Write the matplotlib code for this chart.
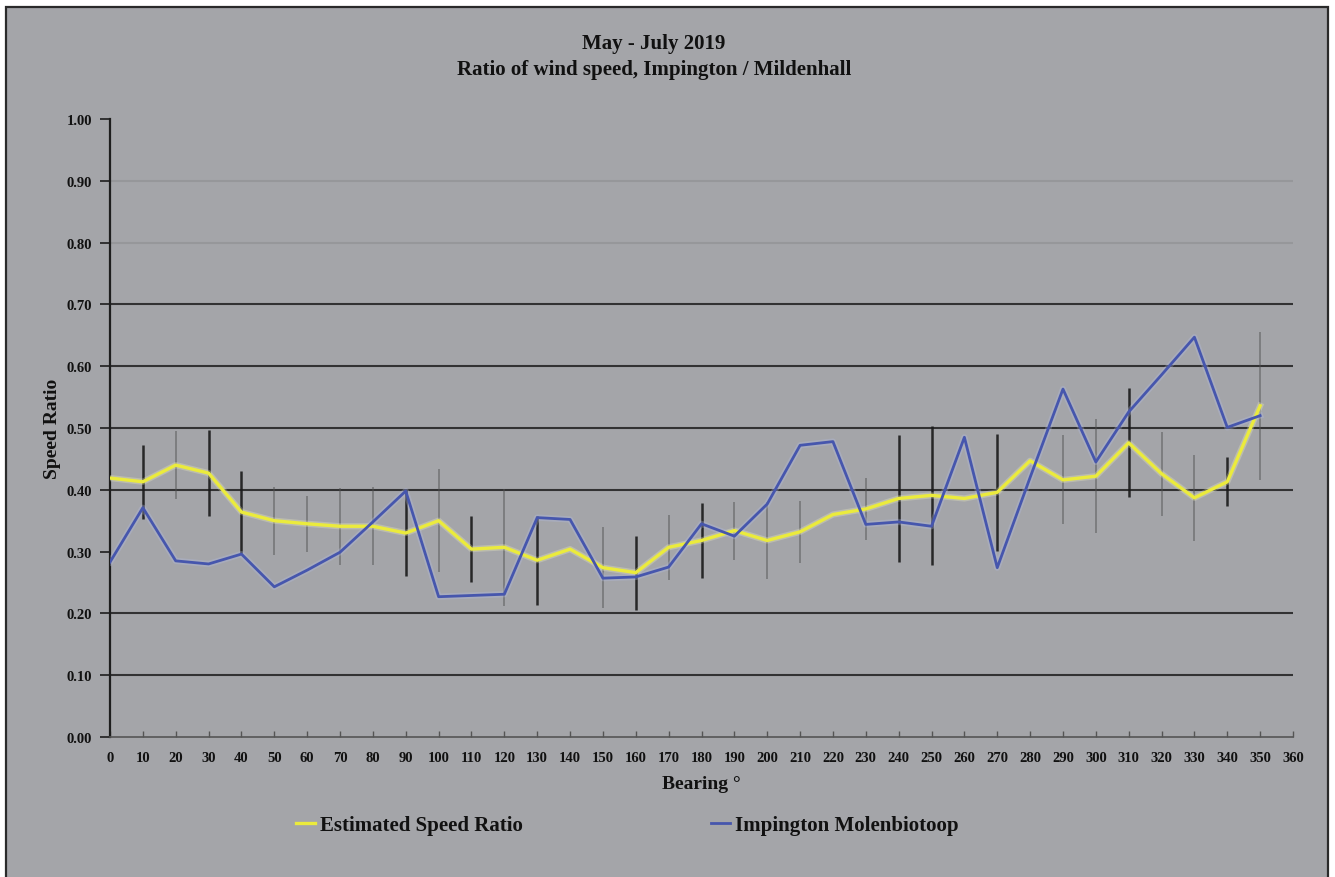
import matplotlib
matplotlib.use("Agg")
import matplotlib.pyplot as plt
from matplotlib.patches import Rectangle

# Wind bearing bins (degrees)
bearings = list(range(0, 360, 10))

# Estimated speed ratio per bearing
estimated_ratio = [0.419, 0.413, 0.440, 0.427, 0.364, 0.350, 0.345, 0.341, 0.341, 0.330,
                   0.350, 0.304, 0.307, 0.286, 0.304, 0.274, 0.266, 0.307, 0.318, 0.334,
                   0.318, 0.332, 0.360, 0.369, 0.386, 0.391, 0.386, 0.396, 0.447, 0.416,
                   0.422, 0.476, 0.426, 0.387, 0.413, 0.536]

# Half-width of the spread around the estimated ratio
ratio_spread = [0.000, 0.060, 0.055, 0.070, 0.067, 0.055, 0.045, 0.062, 0.063, 0.070,
                0.083, 0.053, 0.095, 0.072, 0.000, 0.065, 0.060, 0.053, 0.060, 0.047,
                0.062, 0.050, 0.000, 0.050, 0.103, 0.113, 0.000, 0.095, 0.000, 0.072,
                0.092, 0.088, 0.068, 0.070, 0.040, 0.120]

# Measured ratio, Impington Molenbiotoop
impington_ratio = [0.283, 0.371, 0.285, 0.280, 0.296, 0.243, 0.270, 0.299, 0.348, 0.398,
                   0.227, 0.229, 0.231, 0.355, 0.352, 0.257, 0.259, 0.275, 0.345, 0.325,
                   0.377, 0.472, 0.478, 0.344, 0.348, 0.341, 0.485, 0.274, 0.420, 0.563,
                   0.445, 0.526, 0.586, 0.647, 0.501, 0.520]

x_ticks = list(range(0, 370, 10))
y_ticks = [0.0, 0.1, 0.2, 0.3, 0.4, 0.5, 0.6, 0.7, 0.8, 0.9, 1.0]

title_lines = ["May - July 2019", "Ratio of wind speed, Impington / Mildenhall"]
x_label = "Bearing \u00b0"
y_label = "Speed Ratio"
legend_labels = ["Estimated Speed Ratio", "Impington Molenbiotoop"]

BG = "#a4a5a9"
SERIF = ["Liberation Serif", "DejaVu Serif"]

fig = plt.figure(figsize=(13.35, 8.78), dpi=100)
fig.patch.set_facecolor("white")

# chart area with a dark frame
frame = Rectangle((6 / 1335, -0.05), (1328 - 6) / 1335, 1.05 - 8 / 878,
                  transform=fig.transFigure, facecolor=BG, edgecolor="#2a2a2a",
                  linewidth=1.6, zorder=-5)
fig.patches.append(frame)

ax = fig.add_axes([110 / 1335, (878 - 738) / 878, 1183 / 1335, 618 / 878])
ax.set_zorder(2)
ax.patch.set_alpha(0)

ax.set_xlim(0, 360)
ax.set_ylim(0, 1.0)

# horizontal gridlines (strength varies by level)
grid_alpha = {0.1: 0.85, 0.2: 0.85, 0.3: 0.0, 0.4: 0.85, 0.5: 0.85,
              0.6: 0.85, 0.7: 0.85, 0.8: 0.1, 0.9: 0.1}
for lvl, a in grid_alpha.items():
    if a > 0:
        ax.axhline(lvl, color="#1e1e1e", lw=1.5, alpha=a, zorder=1)

# spread bars around the estimated ratio
dark_bars = {10, 30, 40, 90, 110, 130, 160, 180, 240, 250, 270, 310, 340}
for b, v, e in zip(bearings, estimated_ratio, ratio_spread):
    if e <= 0:
        continue
    strong = b in dark_bars
    ax.vlines(b, v - e, v + e, color="#1a1a1a" if strong else "#505050",
              lw=1.8 if strong else 1.2, alpha=0.9 if strong else 0.55, zorder=2)

# soft halo under the lines
ax.plot(bearings, estimated_ratio, color="#f2f2c0", lw=4.5, alpha=0.3, zorder=3,
        solid_joinstyle="round")
ax.plot(bearings, impington_ratio, color="#b4bde8", lw=4.5, alpha=0.3, zorder=3,
        solid_joinstyle="round")
l1, = ax.plot(bearings, estimated_ratio, color="#ebeb3c", lw=2.4, zorder=4,
              label=legend_labels[0])
l2, = ax.plot(bearings, impington_ratio, color="#4656ad", lw=2.0, zorder=5,
              label=legend_labels[1])

for s in ["top", "right"]:
    ax.spines[s].set_visible(False)
ax.spines["left"].set_color("#1e1e1e")
ax.spines["left"].set_linewidth(1.6)
ax.spines["bottom"].set_color("#555555")
ax.spines["bottom"].set_linewidth(1.2)

ax.set_yticks(y_ticks)
ax.set_yticklabels([f"{t:.2f}" for t in y_ticks])
ax.set_xticks(x_ticks)
ax.set_xticklabels([str(t) for t in x_ticks])
ax.tick_params(axis="y", direction="out", length=7, width=1.2, color="#1e1e1e", pad=6)
ax.tick_params(axis="x", direction="in", length=4, width=1.0, color="#555555", pad=10)
for lab in ax.get_yticklabels() + ax.get_xticklabels():
    lab.set_fontfamily(SERIF)
    lab.set_fontweight("bold")
    lab.set_fontsize(10.5)
    lab.set_color("#111111")

ax.set_xlabel(x_label, fontfamily=SERIF, fontweight="bold", fontsize=14,
              color="#111111", labelpad=8)
ax.set_ylabel(y_label, fontfamily=SERIF, fontweight="bold", fontsize=14,
              color="#111111", labelpad=4)

fig.text(0.490, (878 - 44) / 878, title_lines[0], ha="center", va="center",
         fontfamily=SERIF, fontweight="bold", fontsize=15, color="#111111")
fig.text(0.490, (878 - 70) / 878, title_lines[1], ha="center", va="center",
         fontfamily=SERIF, fontweight="bold", fontsize=15, color="#111111")

leg = fig.legend(handles=[l1, l2], loc="center", bbox_to_anchor=(0.470, (878 - 826) / 878),
                 ncol=2, frameon=False, handlelength=0.9, handletextpad=0.25,
                 columnspacing=9.0,
                 prop={"family": SERIF, "weight": "bold", "size": 15})
for t in leg.get_texts():
    t.set_color("#111111")

fig.savefig("out.png", dpi=100, facecolor=fig.get_facecolor())
